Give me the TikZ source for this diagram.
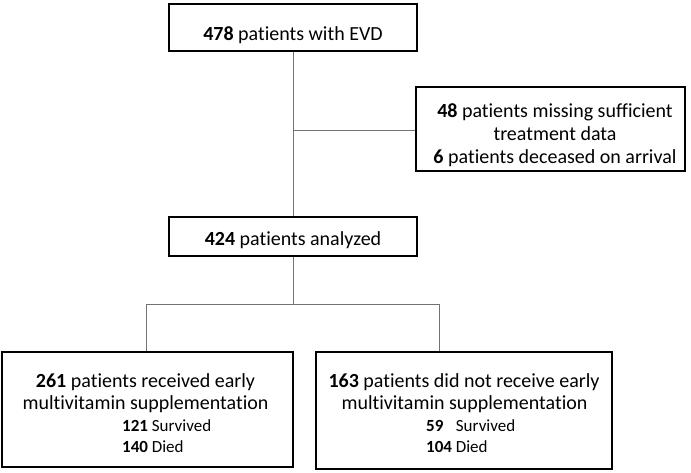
\documentclass[tikz,border=0pt]{standalone}
\usepackage{fontspec}
\setmainfont{Carlito}[Ligatures=NoCommon]
\begin{document}
\begin{tikzpicture}[x=1pt,y=-1pt,
  box/.style={draw=black,line width=1.6pt,inner sep=0pt,fill=none},
  conn/.style={draw=black!55,line width=0.9pt},
  txt/.style={anchor=base,inner sep=0pt,font=\fontsize{20}{24}\selectfont},
  small/.style={anchor=base west,inner sep=0pt,font=\fontsize{17}{20}\selectfont}]
\useasboundingbox (0,0) rectangle (691,472);
% boxes
\node[box,minimum width=248pt,minimum height=47pt] (top) at (293,27.5) {};
\node[box,minimum width=269pt,minimum height=84pt] (right) at (550.5,129) {};
\node[box,minimum width=248pt,minimum height=39pt] (mid) at (293,236.5) {};
\node[box,minimum width=291pt,minimum height=115pt] (bl) at (147.5,409.5) {};
\node[box,minimum width=296pt,minimum height=117pt] (br) at (464,410.5) {};
% texts
\node[txt] (ttop) at (293,40) {\textbf{478} patients with EVD};
\node[txt] (tr1) at (555,117) {\textbf{48} patients missing sufficient};
\node[txt] (tr2) at (555,140) {treatment data};
\node[txt] (tr3) at (555,163) {\textbf{6} patients deceased on arrival};
\node[txt] (tmid) at (293,245) {\textbf{424} patients analyzed};
\node[txt] (tbl1) at (145.5,387) {\textbf{261} patients received early};
\node[txt] (tbl2) at (145.5,409) {multivitamin supplementation};
\node[small] (tbl3) at (122,431) {\textbf{121} Survived};
\node[small] (tbl4) at (122,452) {\textbf{140} Died};
\node[txt] (tbr1) at (464,387) {\textbf{163} patients did not receive early};
\node[txt] (tbr2) at (464.5,409) {multivitamin supplementation};
\node[small] (tbr3) at (426,431) {\textbf{59}\hspace{12.5pt}Survived};
\node[small] (tbr4) at (426,452) {\textbf{104} Died};
% connectors
\coordinate (j1) at (293,130);
\coordinate (j2) at (293,304);
\coordinate (cl) at (146,304);
\coordinate (cr) at (439,304);
\draw[conn] (top.south) -- (mid.north);
\draw[conn] (j1) -- (j1 -| right.west);
\draw[conn] (mid.south) -- (j2);
\draw[conn] (cl) -- (cr);
\draw[conn] (cl) -- (cl |- bl.north);
\draw[conn] (cr) -- (cr |- br.north);
\end{tikzpicture}
\end{document}
